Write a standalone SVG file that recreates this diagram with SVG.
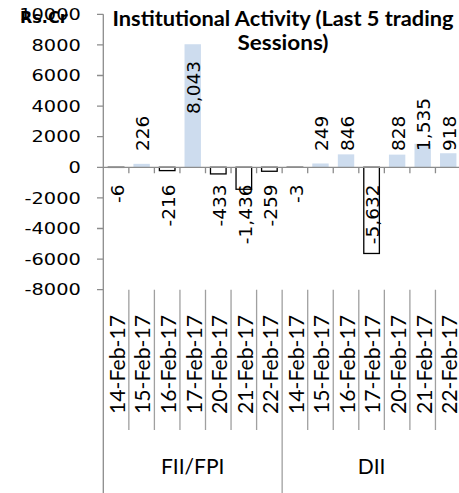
<svg xmlns="http://www.w3.org/2000/svg" width="459" height="493" viewBox="0 0 459 493">
<style>
.ax{stroke:#8c8c8c;stroke-width:1.3;fill:none}
.sep{stroke:#a0a0a0;stroke-width:1.3;fill:none}
.pos{fill:#cddcee}
.neg{fill:#ffffff;stroke:#000;stroke-width:1.3}
.yl{font-family:"DejaVu Sans",sans-serif;font-size:15.5px;fill:#000;text-anchor:end}
.dl{font-family:"DejaVu Sans",sans-serif;font-size:18.5px;fill:#000}
.dt{font-family:Lato,"Open Sans",sans-serif;font-size:21px;fill:#000;text-anchor:end}
.gl{font-family:Lato,"Open Sans",sans-serif;font-size:21px;fill:#000;text-anchor:middle}
.tt{font-family:Lato,"Open Sans",sans-serif;font-size:21px;font-weight:bold;fill:#000}
</style>
<rect width="459" height="493" fill="#ffffff"/>
<g id="title">
<text class="tt" x="112.5" y="26" textLength="341" lengthAdjust="spacingAndGlyphs">Institutional Activity (Last 5 trading</text>
<text class="tt" x="237.5" y="49.5" textLength="91" lengthAdjust="spacingAndGlyphs">Sessions)</text>
</g>
<g id="y-axis-labels">
<g transform="translate(80.8,0) scale(1.25,1)">
<text class="yl" x="0" y="19.95">10000</text>
<text class="yl" x="0" y="50.55">8000</text>
<text class="yl" x="0" y="81.15">6000</text>
<text class="yl" x="0" y="111.75">4000</text>
<text class="yl" x="0" y="142.35">2000</text>
<text class="yl" x="0" y="172.95">0</text>
<text class="yl" x="0" y="203.55">-2000</text>
<text class="yl" x="0" y="234.15">-4000</text>
<text class="yl" x="0" y="264.75">-6000</text>
<text class="yl" x="0" y="295.35">-8000</text>
</g>
<text x="20" y="22.7" font-family="DejaVu Sans,sans-serif" font-weight="bold" font-size="16" fill="#000">Rs.Cr</text>
</g>
<g id="bars">
<g id="fii-14"><rect class="neg" x="108.28" y="167.3" width="15.6" height="0.09"/></g>
<g id="fii-15"><rect class="pos" x="133.43" y="163.84" width="16.4" height="3.46"/></g>
<g id="fii-16"><rect class="neg" x="159.38" y="167.3" width="15.6" height="3.30"/></g>
<g id="fii-17"><rect class="pos" x="184.53" y="44.24" width="16.4" height="123.06"/></g>
<g id="fii-20"><rect class="neg" x="210.48" y="167.3" width="15.6" height="6.62"/></g>
<g id="fii-21"><rect class="neg" x="236.03" y="167.3" width="15.6" height="21.97"/></g>
<g id="fii-22"><rect class="neg" x="261.58" y="167.3" width="15.6" height="3.96"/></g>
<g id="dii-14"><rect class="neg" x="287.13" y="167.3" width="15.6" height="0.05"/></g>
<g id="dii-15"><rect class="pos" x="312.28" y="163.49" width="16.4" height="3.81"/></g>
<g id="dii-16"><rect class="pos" x="337.83" y="154.36" width="16.4" height="12.94"/></g>
<g id="dii-17"><rect class="neg" x="363.78" y="167.3" width="15.6" height="86.17"/></g>
<g id="dii-20"><rect class="pos" x="388.93" y="154.63" width="16.4" height="12.67"/></g>
<g id="dii-21"><rect class="pos" x="414.48" y="143.81" width="16.4" height="23.49"/></g>
<g id="dii-22"><rect class="pos" x="440.03" y="153.25" width="16.4" height="14.05"/></g>
</g>
<g id="connectors">
<path class="ax" d="M103.3,14.3V493M97,14.3H103.3M97,44.9H103.3M97,75.5H103.3M97,106.1H103.3M97,136.7H103.3M97,167.3H103.3M97,197.9H103.3M97,228.5H103.3M97,259.1H103.3M97,289.7H103.3"/>
<path class="ax" d="M103.3,167.3H459M128.85,167.3V173.3M154.4,167.3V173.3M179.95,167.3V173.3M205.5,167.3V173.3M231.05,167.3V173.3M256.6,167.3V173.3M282.15,167.3V173.3M307.7,167.3V173.3M333.25,167.3V173.3M358.8,167.3V173.3M384.35,167.3V173.3M409.9,167.3V173.3M435.45,167.3V173.3"/>
<path class="sep" d="M128.85,289.7V430M154.4,289.7V430M179.95,289.7V430M205.5,289.7V430M231.05,289.7V430M256.6,289.7V430M307.7,289.7V430M333.25,289.7V430M358.8,289.7V430M384.35,289.7V430M409.9,289.7V430M435.45,289.7V430M282.15,289.7V493"/>
</g>
<g id="data-labels">
<text class="dl" text-anchor="end" transform="translate(123.8,184.5) rotate(-90)">-6</text>
<text class="dl" transform="translate(149.3,151) rotate(-90)">226</text>
<text class="dl" text-anchor="end" transform="translate(174.9,184.5) rotate(-90)">-216</text>
<text class="dl" transform="translate(200.4,114) rotate(-90)">8,043</text>
<text class="dl" text-anchor="end" transform="translate(226,184.5) rotate(-90)">-433</text>
<text class="dl" text-anchor="end" transform="translate(251.5,184.5) rotate(-90)">-1,436</text>
<text class="dl" text-anchor="end" transform="translate(277.1,184.5) rotate(-90)">-259</text>
<text class="dl" text-anchor="end" transform="translate(302.6,184.5) rotate(-90)">-3</text>
<text class="dl" transform="translate(328.2,151) rotate(-90)">249</text>
<text class="dl" transform="translate(353.7,151) rotate(-90)">846</text>
<text class="dl" text-anchor="end" transform="translate(379.3,184.5) rotate(-90)">-5,632</text>
<text class="dl" transform="translate(404.8,151) rotate(-90)">828</text>
<text class="dl" transform="translate(430.4,151) rotate(-90)">1,535</text>
<text class="dl" transform="translate(455.9,151) rotate(-90)">918</text>
</g>
<g id="category-labels">
<text class="dt" textLength="99" lengthAdjust="spacingAndGlyphs" transform="translate(124.9,315) rotate(-90)">14-Feb-17</text>
<text class="dt" textLength="99" lengthAdjust="spacingAndGlyphs" transform="translate(150.4,315) rotate(-90)">15-Feb-17</text>
<text class="dt" textLength="99" lengthAdjust="spacingAndGlyphs" transform="translate(176,315) rotate(-90)">16-Feb-17</text>
<text class="dt" textLength="99" lengthAdjust="spacingAndGlyphs" transform="translate(201.5,315) rotate(-90)">17-Feb-17</text>
<text class="dt" textLength="99" lengthAdjust="spacingAndGlyphs" transform="translate(227.1,315) rotate(-90)">20-Feb-17</text>
<text class="dt" textLength="99" lengthAdjust="spacingAndGlyphs" transform="translate(252.6,315) rotate(-90)">21-Feb-17</text>
<text class="dt" textLength="99" lengthAdjust="spacingAndGlyphs" transform="translate(278.2,315) rotate(-90)">22-Feb-17</text>
<text class="dt" textLength="99" lengthAdjust="spacingAndGlyphs" transform="translate(303.7,315) rotate(-90)">14-Feb-17</text>
<text class="dt" textLength="99" lengthAdjust="spacingAndGlyphs" transform="translate(329.3,315) rotate(-90)">15-Feb-17</text>
<text class="dt" textLength="99" lengthAdjust="spacingAndGlyphs" transform="translate(354.8,315) rotate(-90)">16-Feb-17</text>
<text class="dt" textLength="99" lengthAdjust="spacingAndGlyphs" transform="translate(380.4,315) rotate(-90)">17-Feb-17</text>
<text class="dt" textLength="99" lengthAdjust="spacingAndGlyphs" transform="translate(405.9,315) rotate(-90)">20-Feb-17</text>
<text class="dt" textLength="99" lengthAdjust="spacingAndGlyphs" transform="translate(431.5,315) rotate(-90)">21-Feb-17</text>
<text class="dt" textLength="99" lengthAdjust="spacingAndGlyphs" transform="translate(457,315) rotate(-90)">22-Feb-17</text>
<text class="gl" x="192.7" y="474">FII/FPI</text>
<text class="gl" x="371.6" y="474">DII</text>
</g>
</svg>
